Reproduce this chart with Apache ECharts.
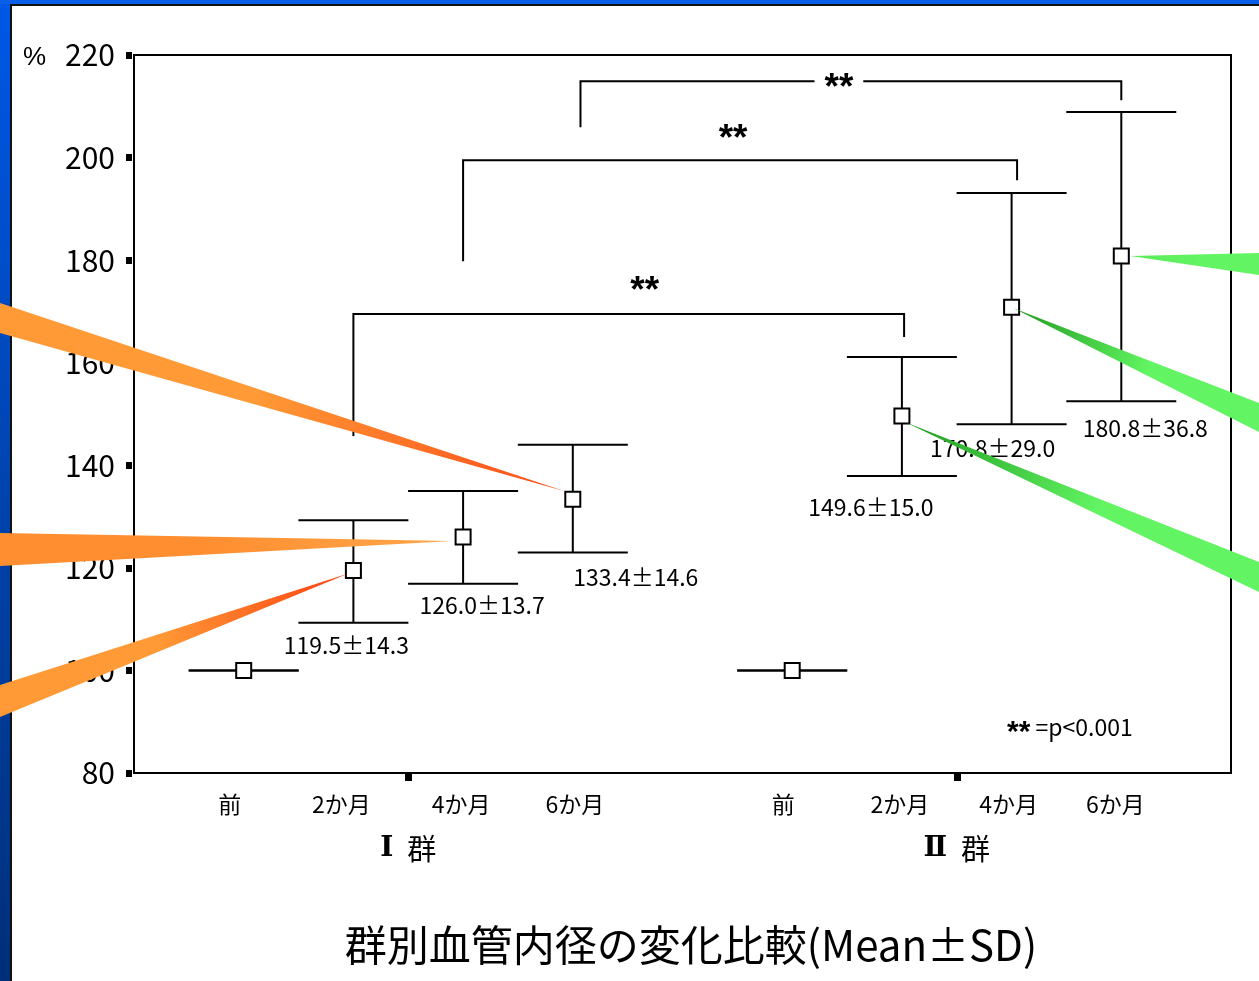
<!DOCTYPE html>
<html>
<head>
<meta charset="utf-8">
<script src="https://cdn.jsdelivr.net/npm/echarts@6/dist/echarts.min.js"></script>
<style>
  html, body { margin: 0; padding: 0; background: #fff; }
  #chart { width: 1259px; height: 981px; }
</style>
</head>
<body>
<div id="chart"></div>
<script>
// ---- data ----
const timepoints = ['前', '2か月', '4か月', '6か月'];
const groupNumerals = ['Ⅰ', 'Ⅱ'];
const groupWord = '群';

const meanI = [100, 119.5, 126.0, 133.4];
const sdI = [null, 14.3, 13.7, 14.6];
const barLowI = [100, 109.3, 116.9, 123.0];
const barHighI = [100, 129.3, 135.0, 144.0];

const meanII = [100, 149.6, 170.8, 180.8];
const sdII = [null, 15.0, 29.0, 36.8];
const barLowII = [100, 137.9, 148.0, 152.5];
const barHighII = [100, 161.1, 193.1, 208.9];

const yMin = 80, yMax = 220, yStep = 20;

// significance brackets: [from, to, bar level, left foot, right foot]
const brackets = [
  [1.0, 6.02, 169.5, 145.7, 165.0],
  [2.0, 7.05, 199.5, 179.8, 195.6],
  [3.07, 8.0, 214.9, 205.9, 211.2]
];
const bracketMark = '**';
const pNoteMark = '**';
const pNoteText = ' =p<0.001';
const chartTitle = '群別血管内径の変化比較(Mean±SD)';
const yUnit = '%';

// ---- layout (pixels) ----
const FONT = '"Noto Sans CJK JP", "Noto Sans", sans-serif';
const STAR_FONT = 'bold 37px "Liberation Sans", sans-serif';
const groupGap = 5;               // x offset of group II
const capHalf = 55;               // half width of error-bar caps
// horizontal nudges of the time-point labels
const xLabelShift = [-14, -12, -2, 2, -9, -2, -3, -6];
// value label offsets from (point x, lower cap y)
const labelShift = [null, [-7, 23], [19, 22], [63, 25], null, [-31, 31], [-19, 24], [24, 27]];
// "**" offsets from bracket midpoint / bar level
const markShift = [[16, -29], [-7, -27], [-12, 1]];
// callout wedges: [point index, tip dx, tip dy, edge x, edge y1, edge y2, tip colour, edge colour]
const wedges = [
  [3, -8, -8, 0, 303, 333, '#ff4a18', '#ff9a36'],
  [2, -11, 4, 0, 533, 566, '#ffa64a', '#ff8e30'],
  [1, -5, 3, 0, 685, 717, '#ff4010', '#ff9a36'],
  [7, 9, 0, 1259, 253, 275, '#58ea58', '#62f462'],
  [6, 2, 1, 1259, 403, 432, '#1f9a1f', '#62f462'],
  [5, 3, 6, 1259, 562, 592, '#1f9a1f', '#62f462']
];

// ---- build series rows ----
const points = [];
[[meanI, sdI, barLowI, barHighI], [meanII, sdII, barLowII, barHighII]].forEach((g, gi) => {
  timepoints.forEach((t, i) => {
    points.push([gi * groupGap + i, g[0][i], g[2][i], g[3][i], g[1][i]]);
  });
});

// rich styles that nudge each time-point label sideways
const xRich = {};
xLabelShift.forEach((s, i) => {
  xRich['p' + i] = {
    color: '#000', fontSize: 23, fontFamily: FONT,
    padding: s < 0 ? [0, -2 * s, 0, 0] : [0, 0, 0, 2 * s]
  };
});

const chart = echarts.init(document.getElementById('chart'), null, { renderer: 'canvas' });

const option = {
  backgroundColor: '#fff',
  animation: false,
  grid: {
    left: 134, right: 28, top: 55, bottom: 208,
    show: true, borderColor: '#000', borderWidth: 2, backgroundColor: 'transparent'
  },
  xAxis: [
    {
      type: 'value', min: -1, max: 9, position: 'bottom', offset: 1,
      axisLine: { show: false, onZero: false },
      splitLine: { show: false },
      axisTick: { show: true, customValues: [1.5, 6.5], length: 7, lineStyle: { color: '#000', width: 7 } },
      axisLabel: {
        customValues: points.map(p => p[0]),
        formatter: v => {
          const i = points.findIndex(p => p[0] === v);
          return i < 0 ? '' : '{p' + i + '|' + timepoints[v % groupGap] + '}';
        },
        rich: xRich,
        color: '#000', fontSize: 23, fontFamily: FONT, margin: 19
      }
    },
    {
      type: 'value', min: -1, max: 9, position: 'bottom', offset: 0,
      axisLine: { show: false, onZero: false },
      splitLine: { show: false },
      axisTick: { show: false },
      axisLabel: {
        customValues: [1.5, 6.5],
        formatter: v => '{r|' + groupNumerals[v < 4 ? 0 : 1] + '}{k|' + groupWord + '}',
        rich: {
          r: { color: '#000', fontSize: 28, fontFamily: '"DejaVu Serif", serif', fontWeight: 'bold' },
          k: { color: '#000', fontSize: 29, fontFamily: FONT, padding: [0, 0, 0, 14] }
        },
        margin: 61
      }
    }
  ],
  yAxis: {
    type: 'value', min: yMin, max: yMax, interval: yStep, offset: 2,
    axisLine: { show: false, onZero: false },
    splitLine: { show: false },
    axisTick: { show: true, length: 6, lineStyle: { color: '#000', width: 7 } },
    axisLabel: { color: '#000', fontSize: 30, fontFamily: FONT, margin: 17 }
  },
  graphic: [
    // slide frame: blue band on the left and top
    {
      type: 'rect', left: 0, top: 0, z: 1,
      shape: { width: 10, height: 981 },
      style: { fill: new echarts.graphic.LinearGradient(0, 0, 0, 1, [
        { offset: 0, color: '#0058e6' }, { offset: 1, color: '#002f78' }]) }
    },
    { type: 'rect', left: 10, top: 0, z: 1, shape: { width: 2, height: 981 }, style: { fill: '#111' } },
    {
      type: 'rect', left: 0, top: 0, z: 1,
      shape: { width: 1259, height: 4 },
      style: { fill: '#0a5ee8' }
    },
    { type: 'rect', left: 10, top: 4, z: 1, shape: { width: 1249, height: 2 }, style: { fill: '#111' } },
    {
      type: 'text', left: 23, top: 45, z: 5,
      style: { text: yUnit, font: '26px "Liberation Sans Narrow", sans-serif', fill: '#000' }
    },
    {
      type: 'text', left: 1007, top: 716, z: 5,
      style: {
        text: '{s|' + pNoteMark + '}{t|' + pNoteText + '}',
        rich: {
          s: { font: 'bold 30px "Liberation Sans", sans-serif', fill: '#000', padding: [10, 0, 0, 0] },
          t: { font: '23px ' + FONT, fill: '#000' }
        }
      }
    },
    {
      type: 'text', z: 5,
      style: {
        text: chartTitle, x: 691, y: 945,
        font: '42px ' + FONT, fill: '#000',
        align: 'center', verticalAlign: 'middle'
      }
    }
  ],
  series: [
    {
      // significance brackets
      type: 'custom',
      z: 3,
      silent: true,
      clip: false,
      data: brackets,
      renderItem: (params, api) => {
        const i = params.dataIndex;
        const a = api.coord([api.value(0), api.value(2)]);
        const b = api.coord([api.value(1), api.value(2)]);
        const lf = api.coord([api.value(0), api.value(3)]);
        const rf = api.coord([api.value(1), api.value(4)]);
        const sh = markShift[i];
        const mid = (a[0] + b[0]) / 2 + sh[0];
        const inline = Math.abs(sh[1]) < 5;
        return {
          type: 'group',
          children: [
            {
              type: 'polyline',
              shape: { points: [lf, a, b, rf] },
              style: { stroke: '#000', lineWidth: 2, fill: null }
            },
            {
              type: 'text', z2: 5,
              style: {
                text: bracketMark, x: mid, y: a[1] + sh[1] + 7,
                font: STAR_FONT, fill: '#000',
                align: 'center', verticalAlign: 'middle',
                backgroundColor: inline ? '#fff' : null,
                padding: inline ? [0, 10, 0, 10] : 0
              }
            }
          ]
        };
      }
    },
    {
      // error bars and mean ± SD labels
      type: 'custom',
      z: 4,
      silent: true,
      clip: false,
      data: points,
      renderItem: (params, api) => {
        const i = params.dataIndex;
        const lo = api.coord([api.value(0), api.value(2)]);
        const hi = api.coord([api.value(0), api.value(3)]);
        const x = lo[0];
        const children = [
          { type: 'line', shape: { x1: x, y1: hi[1], x2: x, y2: lo[1] }, style: { stroke: '#000', lineWidth: 2 } },
          { type: 'line', shape: { x1: x - capHalf, y1: hi[1], x2: x + capHalf, y2: hi[1] }, style: { stroke: '#000', lineWidth: 2 } },
          { type: 'line', shape: { x1: x - capHalf, y1: lo[1], x2: x + capHalf, y2: lo[1] }, style: { stroke: '#000', lineWidth: 2 } }
        ];
        const sd = points[i][4];
        if (sd != null && labelShift[i]) {
          children.push({
            type: 'text',
            style: {
              text: points[i][1].toFixed(1) + '±' + sd.toFixed(1),
              x: x + labelShift[i][0], y: lo[1] + labelShift[i][1],
              font: '23px ' + FONT, fill: '#000',
              align: 'center', verticalAlign: 'middle'
            }
          });
        }
        return { type: 'group', children };
      }
    },
    {
      // mean markers
      type: 'scatter',
      z: 5,
      silent: true,
      symbol: 'rect',
      symbolSize: 15,
      itemStyle: { color: '#fff', borderColor: '#000', borderWidth: 2, opacity: 1 },
      data: points.map(p => [p[0], p[1]])
    },
    {
      // callout wedges pointing at the follow-up means
      type: 'custom',
      z: 20,
      silent: true,
      clip: false,
      data: wedges.map(w => [points[w[0]][0], points[w[0]][1]]),
      renderItem: (params, api) => {
        const w = wedges[params.dataIndex];
        const p = api.coord([api.value(0), api.value(1)]);
        const tip = [p[0] + w[1], p[1] + w[2]];
        const e1 = [w[3], w[4]], e2 = [w[3], w[5]];
        return {
          type: 'polygon',
          shape: { points: [tip, e1, e2] },
          style: {
            fill: {
              type: 'linear', global: true,
              x: tip[0], y: tip[1], x2: w[3], y2: (w[4] + w[5]) / 2,
              colorStops: [{ offset: 0, color: w[6] }, { offset: 0.55, color: w[7] }, { offset: 1, color: w[7] }]
            }
          }
        };
      }
    }
  ]
};

chart.setOption(option);
</script>
</body>
</html>
